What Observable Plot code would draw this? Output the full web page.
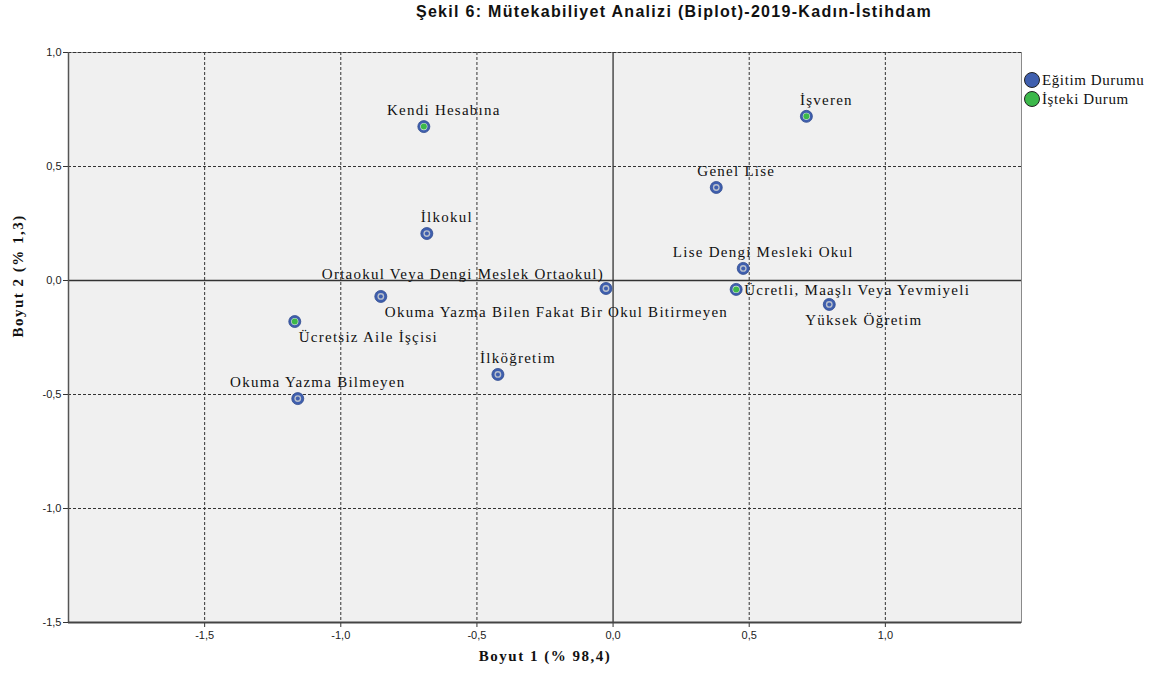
<!DOCTYPE html>
<html>
<head>
<meta charset="utf-8">
<script src="https://cdn.jsdelivr.net/npm/d3@7"></script>
<script src="https://cdn.jsdelivr.net/npm/@observablehq/plot@0.6"></script>
<style>
  html, body { margin: 0; padding: 0; background: #ffffff; }
  #wrap { position: relative; width: 1160px; height: 673px; }
  #title { position: absolute; top: 3px; left: 0; width: 1348px; text-align: center;
           font-family: "Liberation Sans", Arial, sans-serif; font-weight: bold; font-size: 16px;
           letter-spacing: 1.3px; color: #111; }
</style>
</head>
<body>
<div id="wrap">
  <div id="title">Şekil 6: Mütekabiliyet Analizi (Biplot)-2019-Kadın-İstihdam</div>
  <div id="chart"></div>
</div>
<script>
// ---- Data ----
const eduNames = ["İlkokul", "Genel Lise", "Lise Dengi Mesleki Okul", "Yüksek Öğretim",
  "Ortaokul Veya Dengi Meslek Ortaokul)", "Okuma Yazma Bilen Fakat Bir Okul Bitirmeyen",
  "İlköğretim", "Okuma Yazma Bilmeyen"];
const eduX = [-0.684, 0.379, 0.478, 0.794, -0.026, -0.853, -0.423, -1.158];
const eduY = [0.206, 0.408, 0.053, -0.105, -0.035, -0.070, -0.412, -0.518];

const workNames = ["Kendi Hesabına", "İşveren", "Ücretli, Maaşlı Veya Yevmiyeli", "Ücretsiz Aile İşçisi"];
const workX = [-0.695, 0.710, 0.452, -1.169];
const workY = [0.675, 0.720, -0.039, -0.180];

const seriesNames = ["Eğitim Durumu", "İşteki Durum"];
const xTicks = [-1.5, -1.0, -0.5, 0.0, 0.5, 1.0];
const yTicks = [-1.5, -1.0, -0.5, 0.0, 0.5, 1.0];
const xTitle = "Boyut 1 (% 98,4)";
const yTitle = "Boyut 2 (% 1,3)";

// ---- Label placement (styling, not data) ----
const placeAbove = ["İlkokul", "Genel Lise", "Lise Dengi Mesleki Okul", "İlköğretim", "Okuma Yazma Bilmeyen", "Kendi Hesabına", "İşveren"];
const placeRight = ["Ücretli, Maaşlı Veya Yevmiyeli"];
const placeBelowRight = ["Okuma Yazma Bilen Fakat Bir Okul Bitirmeyen", "Ücretsiz Aile İşçisi"];
const placeLeftAbove = ["Ortaokul Veya Dengi Meslek Ortaokul)"];
const placeBelowShift = ["Yüksek Öğretim"];

const pts = [
  ...eduNames.map((n, i) => ({name: n, x: eduX[i], y: eduY[i], s: seriesNames[0]})),
  ...workNames.map((n, i) => ({name: n, x: workX[i], y: workY[i], s: seriesNames[1]}))
];
const edu = pts.filter(d => d.s === seriesNames[0]);
const work = pts.filter(d => d.s === seriesNames[1]);

const blue = "#3f5fae";
const green = "#3cb84a";
const fmt = d => d.toFixed(1).replace(".", ",");
const serif = "'Liberation Serif', 'Times New Roman', serif";
const sans = "'Liberation Sans', Arial, sans-serif";
const labFont = {fontFamily: serif, fontSize: 15, fill: "#111"};

const inSet = arr => d => arr.includes(d.name);

const chart = Plot.plot({
  width: 1160, height: 673,
  marginLeft: 68, marginRight: 139, marginTop: 52, marginBottom: 51,
  x: {domain: [-2, 1.5]},
  y: {domain: [-1.5, 1.0]},
  style: {background: "transparent", fontFamily: sans},
  marks: [
    Plot.frame({fill: "#f0f0f0", stroke: "#8a8a8a"}),
    Plot.ruleX(xTicks.filter(t => t !== 0), {stroke: "#333", strokeDasharray: "3,2", strokeWidth: 1}),
    Plot.ruleY(yTicks.filter(t => t !== 0 && t !== -1.5), {stroke: "#333", strokeDasharray: "3,2", strokeWidth: 1}),
    Plot.ruleX([0], {stroke: "#333", strokeWidth: 1.3}),
    Plot.ruleY([0], {stroke: "#333", strokeWidth: 1.3}),
    Plot.axisX({ticks: xTicks, tickFormat: fmt, tickSize: 5, tickPadding: 4, label: null, fontSize: 11, color: "#222", stroke: "#333"}),
    Plot.axisY({ticks: yTicks, tickFormat: fmt, tickSize: 5, tickPadding: 2, label: null, fontSize: 11, color: "#222", stroke: "#333"}),
    Plot.ruleX([-2], {stroke: "#555", strokeWidth: 1.5}),
    Plot.ruleY([-1.5], {stroke: "#444", strokeWidth: 2}),
    // points: education
    Plot.dot(edu, {x: "x", y: "y", r: 6, fill: blue, stroke: "#2f4a8e", strokeWidth: 0.8}),
    Plot.dot(edu, {x: "x", y: "y", r: 3.4, fill: "#b9c0cc"}),
    Plot.dot(edu, {x: "x", y: "y", r: 2, fill: blue}),
    // points: work
    Plot.dot(work, {x: "x", y: "y", r: 6, fill: blue, stroke: "#2f4a8e", strokeWidth: 0.8}),
    Plot.dot(work, {x: "x", y: "y", r: 3.6, fill: "#d8e8d8"}),
    Plot.dot(work, {x: "x", y: "y", r: 3, fill: green}),
    // labels
    Plot.text(pts, {filter: inSet(placeAbove), x: "x", y: "y", text: "name", textAnchor: "middle", dx: 20, dy: -16, ...labFont}),
    Plot.text(pts, {filter: inSet(placeRight), x: "x", y: "y", text: "name", textAnchor: "start", dx: 8, dy: 1, ...labFont}),
    Plot.text(pts, {filter: inSet(placeBelowRight), x: "x", y: "y", text: "name", textAnchor: "start", dx: 4, dy: 16, ...labFont}),
    Plot.text(pts, {filter: inSet(placeLeftAbove), x: "x", y: "y", text: "name", textAnchor: "end", dx: -2, dy: -14, ...labFont}),
    Plot.text(pts, {filter: inSet(placeBelowShift), x: "x", y: "y", text: "name", textAnchor: "start", dx: -24, dy: 16, ...labFont}),
    // axis titles
    Plot.text([xTitle], {frameAnchor: "bottom", dy: 38, text: d => d, fontFamily: serif, fontWeight: "bold", fontSize: 15, fill: "#111", className: "xt"}),
    Plot.text([yTitle], {frameAnchor: "left", dx: -50, rotate: -90, text: d => d, fontFamily: serif, fontWeight: "bold", fontSize: 15, fill: "#111", className: "yt"})
  ]
});
document.getElementById("chart").appendChild(chart);

const svg = d3.select(chart);
// letter spacing to match the wide serif rendering of the original
svg.selectAll("g[aria-label='text'] text").attr("letter-spacing", "1.25px");
svg.selectAll(".xt text, .yt text").attr("letter-spacing", "1.5px");
svg.selectAll("g.xt text, g.yt text").attr("letter-spacing", "1.5px");

// legend
const lg = svg.append("g").attr("transform", "translate(1032,80)").attr("text-anchor", "start");
seriesNames.forEach((n, i) => {
  const g = lg.append("g").attr("transform", `translate(0,${i * 19})`);
  g.append("circle").attr("r", 7.5).attr("fill", i === 0 ? blue : green).attr("stroke", "#222").attr("stroke-width", 1);
  g.append("text").attr("x", 10).attr("dy", "0.35em").attr("font-family", serif).attr("font-size", 15)
    .attr("letter-spacing", "0.6px").attr("fill", "#111").text(n);
});
</script>
</body>
</html>
